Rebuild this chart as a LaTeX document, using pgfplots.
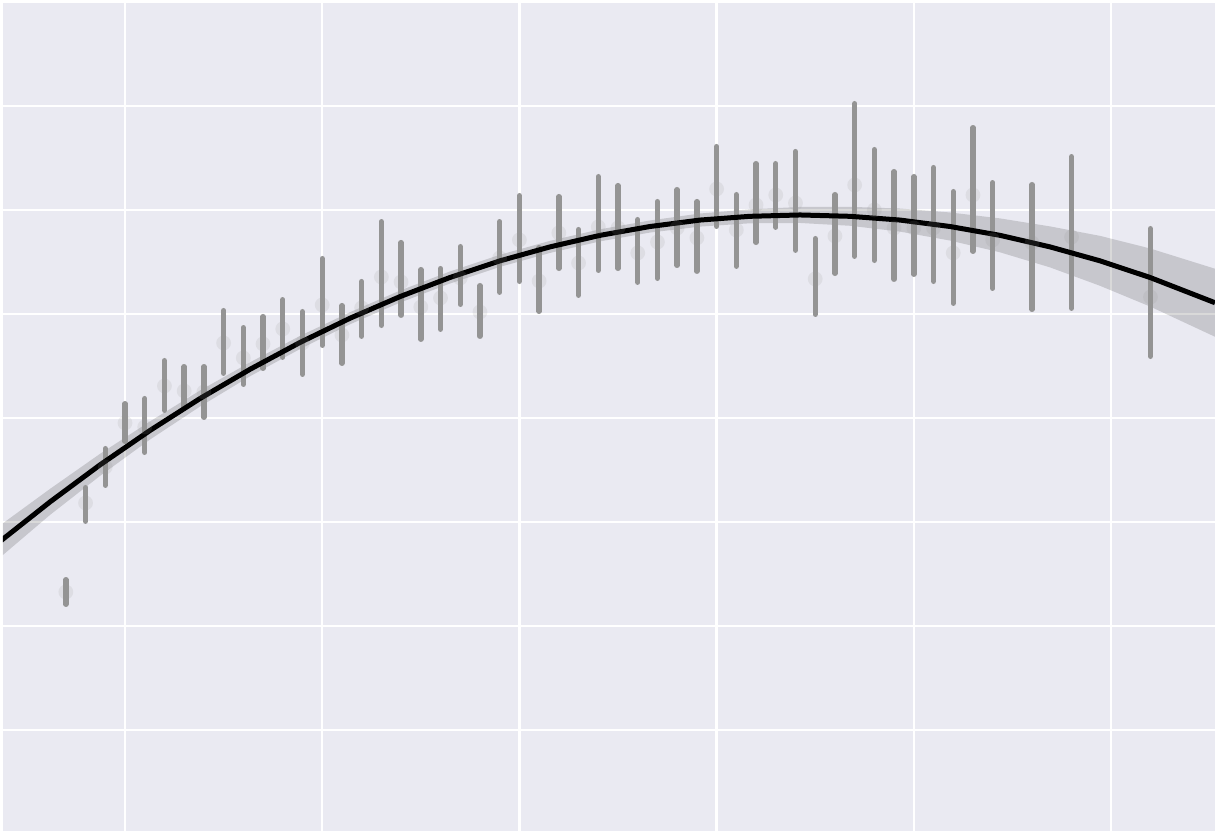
\documentclass[border=0pt]{standalone}
\usepackage{pgfplots}
\usepackage{pgfplotstable}
\pgfplotsset{compat=1.18}
\usepgfplotslibrary{fillbetween}
\definecolor{bg}{HTML}{EAEAF2}
\definecolor{barc}{HTML}{949494}

\pgfplotstableread{
x   y     lo    hi
0.7 2.327 2.183 2.471
0.8 3.183 2.981 3.356
0.9 3.529 3.327 3.731
1.0 3.952 3.750 4.163
1.1 3.913 3.644 4.212
1.2 4.308 4.048 4.577
1.3 4.260 4.077 4.519
1.4 4.250 3.981 4.519
1.5 4.721 4.404 5.058
1.6 4.577 4.298 4.894
1.7 4.712 4.452 5.000
1.8 4.856 4.558 5.163
1.9 4.721 4.394 5.048
2.0 5.087 4.673 5.558
2.1 4.798 4.500 5.106
2.2 5.058 4.760 5.337
2.3 5.356 4.865 5.913
2.4 5.308 4.962 5.712
2.5 5.067 4.731 5.452
2.6 5.154 4.827 5.462
2.7 5.346 5.067 5.673
2.8 5.019 4.760 5.298
2.9 5.538 5.183 5.913
3.0 5.712 5.288 6.163
3.1 5.317 5.000 5.663
3.2 5.779 5.413 6.154
3.3 5.490 5.154 5.837
3.4 5.837 5.394 6.346
3.5 5.827 5.413 6.260
3.6 5.587 5.279 5.933
3.7 5.692 5.317 6.106
3.8 5.827 5.442 6.221
3.9 5.731 5.385 6.106
4.0 6.202 5.817 6.635
4.1 5.808 5.433 6.173
4.2 6.048 5.663 6.471
4.3 6.144 5.808 6.471
4.4 6.067 5.587 6.587
4.5 5.337 4.971 5.750
4.6 5.750 5.365 6.173
4.7 6.240 5.529 7.048
4.8 6.000 5.490 6.606
4.9 5.827 5.308 6.394
5.0 5.827 5.356 6.346
5.1 5.827 5.288 6.433
5.2 5.587 5.077 6.202
5.3 6.144 5.577 6.817
5.4 5.712 5.221 6.288
5.6 5.683 5.019 6.269
5.8 5.740 5.029 6.538
6.2 5.163 4.567 5.846
}\bins

\pgfplotstableread{
x      y     h
0.3661 2.813 0.154
0.6197 3.193 0.125
0.8732 3.549 0.106
1.1268 3.880 0.087
1.3803 4.187 0.077
1.6339 4.468 0.067
1.8874 4.726 0.063
2.1410 4.959 0.058
2.3945 5.167 0.058
2.6481 5.351 0.058
2.9016 5.511 0.058
3.1552 5.645 0.058
3.4087 5.756 0.058
3.6623 5.841 0.058
3.9158 5.903 0.063
4.1694 5.939 0.067
4.4229 5.952 0.077
4.6765 5.939 0.091
4.9300 5.903 0.111
5.1836 5.841 0.135
5.4371 5.756 0.163
5.6907 5.645 0.197
5.9442 5.511 0.240
6.1978 5.351 0.279
6.5274 5.108 0.327
}\fit

\begin{document}
\begin{tikzpicture}
\begin{axis}[
  width=606pt, height=414pt, scale only axis,
  xmin=0.3813, xmax=6.5274, ymin=0.0288, ymax=7.990,
  axis background/.style={fill=bg},
  axis line style={draw=none},
  grid=major,
  major grid style={white, line width=1.2pt},
  xtick={1,...,6}, ytick={1,...,7},
  xticklabels={}, yticklabels={},
  tick style={draw=none},
]
% faint estimator points
\addplot[only marks, mark=*, mark size=3.7pt, color=barc,
  mark options={fill=barc, fill opacity=0.15, draw opacity=0}]
  table[x=x, y=y]{\bins};
% error bars
\addplot[draw=none, mark=none,
  error bars/.cd, y dir=both, y explicit, error mark=none,
  error bar style={line width=2.7pt, color=barc, line cap=round, solid}]
  table[x=x, y=y,
    y error plus expr=\thisrow{hi}-\thisrow{y}-0.026,
    y error minus expr=\thisrow{y}-\thisrow{lo}-0.026]{\bins};
% confidence band
\addplot[name path=up, draw=none, forget plot] table[x=x, y expr=\thisrow{y}+\thisrow{h}]{\fit};
\addplot[name path=low, draw=none, forget plot] table[x=x, y expr=\thisrow{y}-\thisrow{h}]{\fit};
\addplot[fill=black, fill opacity=0.15, draw=none] fill between[of=up and low];
% regression line
\addplot[black, line width=2.5pt] table[x=x, y=y]{\fit};
\end{axis}
\pgfresetboundingbox
\path[use as bounding box] ([xshift=-1.5pt,yshift=1.5pt]current axis.north west) rectangle (current axis.south east);
\end{tikzpicture}
\end{document}
